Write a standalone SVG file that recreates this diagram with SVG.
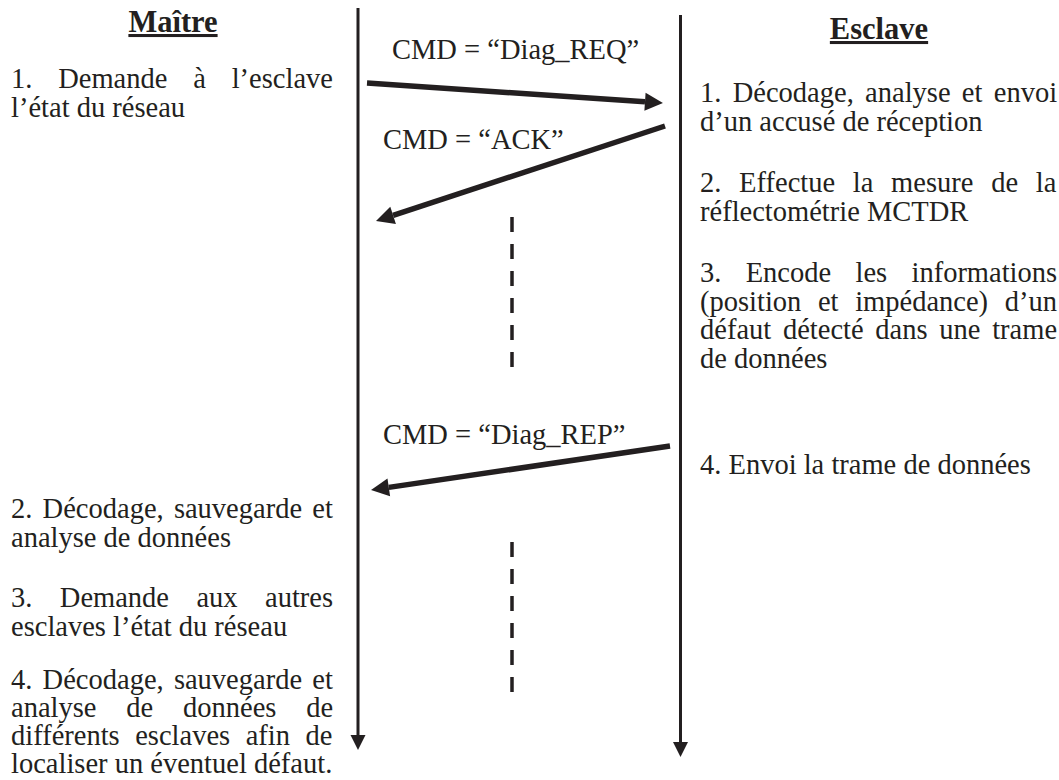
<svg xmlns="http://www.w3.org/2000/svg" width="1059" height="780" viewBox="0 0 1059 780">
<style>
text{font-family:"Liberation Serif","Times New Roman",serif;font-size:28.5px;fill:#231f20}
.title{font-weight:bold;font-size:30.5px;text-decoration:underline;text-anchor:middle}
.life{stroke:#231f20;stroke-width:3;fill:none}
.msg{stroke:#231f20;stroke-width:5.5;fill:none}
.dash{stroke:#231f20;stroke-width:3.5;stroke-dasharray:15 12;fill:none}
</style>
<defs>
<marker id="ah" markerUnits="userSpaceOnUse" markerWidth="20" markerHeight="20" refX="0" refY="0" viewBox="0 -10 20 20" orient="auto" overflow="visible"><path d="M0,-9 L18,0 L0,9 z" fill="#231f20"/></marker>
<marker id="vh" markerUnits="userSpaceOnUse" markerWidth="16" markerHeight="16" refX="0" refY="0" viewBox="0 -8 16 16" orient="auto" overflow="visible"><path d="M0,-7.5 L15,0 L0,7.5 z" fill="#231f20"/></marker>
</defs>
<g id="maitre">
<text class="title" x="173" y="32">Maître</text>
<text x="11" y="88" style="word-spacing:18.7px">1. Demande à l’esclave</text>
<text x="11" y="116.5">l’état du réseau</text>
<text x="11" y="518" style="word-spacing:3.1px">2. Décodage, sauvegarde et</text>
<text x="11" y="546.5">analyse de données</text>
<text x="11" y="607" style="word-spacing:20.3px">3. Demande aux autres</text>
<text x="11" y="635.5">esclaves l’état du réseau</text>
<text x="11" y="688.5" style="word-spacing:3.1px">4. Décodage, sauvegarde et</text>
<text x="11" y="716.5" style="word-spacing:22.7px">analyse de données de</text>
<text x="11" y="744.5" style="word-spacing:8.4px">différents esclaves afin de</text>
<text x="11" y="772.5">localiser un éventuel défaut.</text>
</g>
<g id="esclave">
<text class="title" x="879" y="39">Esclave</text>
<text x="700" y="102" style="word-spacing:4.2px">1. Décodage, analyse et envoi</text>
<text x="700" y="130.5">d’un accusé de réception</text>
<text x="700" y="192" style="word-spacing:10.6px">2. Effectue la mesure de la</text>
<text x="700" y="220.5">réflectométrie MCTDR</text>
<text x="700" y="282" style="word-spacing:17.2px">3. Encode les informations</text>
<text x="700" y="310.5" style="word-spacing:9.5px">(position et impédance) d’un</text>
<text x="700" y="339" style="word-spacing:4.6px">défaut détecté dans une trame</text>
<text x="700" y="367.5">de données</text>
<text x="700" y="474">4. Envoi la trame de données</text>
</g>
<g id="labels">
<text x="392" y="59">CMD = “Diag_REQ”</text>
<text x="383" y="149">CMD = “ACK”</text>
<text x="383" y="444">CMD = “Diag_REP”</text>
</g>
<g id="connectors">
<line class="life" x1="358" y1="8" x2="358" y2="735" marker-end="url(#vh)"/>
<line class="life" x1="680.5" y1="15" x2="680.5" y2="742" marker-end="url(#vh)"/>
<line class="msg" x1="367" y1="83" x2="645" y2="101.8" marker-end="url(#ah)"/>
<line class="msg" x1="665" y1="126" x2="393.1" y2="215.4" marker-end="url(#ah)"/>
<line class="msg" x1="670" y1="446" x2="388.8" y2="487.4" marker-end="url(#ah)"/>
<line class="dash" x1="512" y1="217" x2="512" y2="367"/>
<line class="dash" x1="512" y1="542" x2="512" y2="692"/>
</g>
</svg>
